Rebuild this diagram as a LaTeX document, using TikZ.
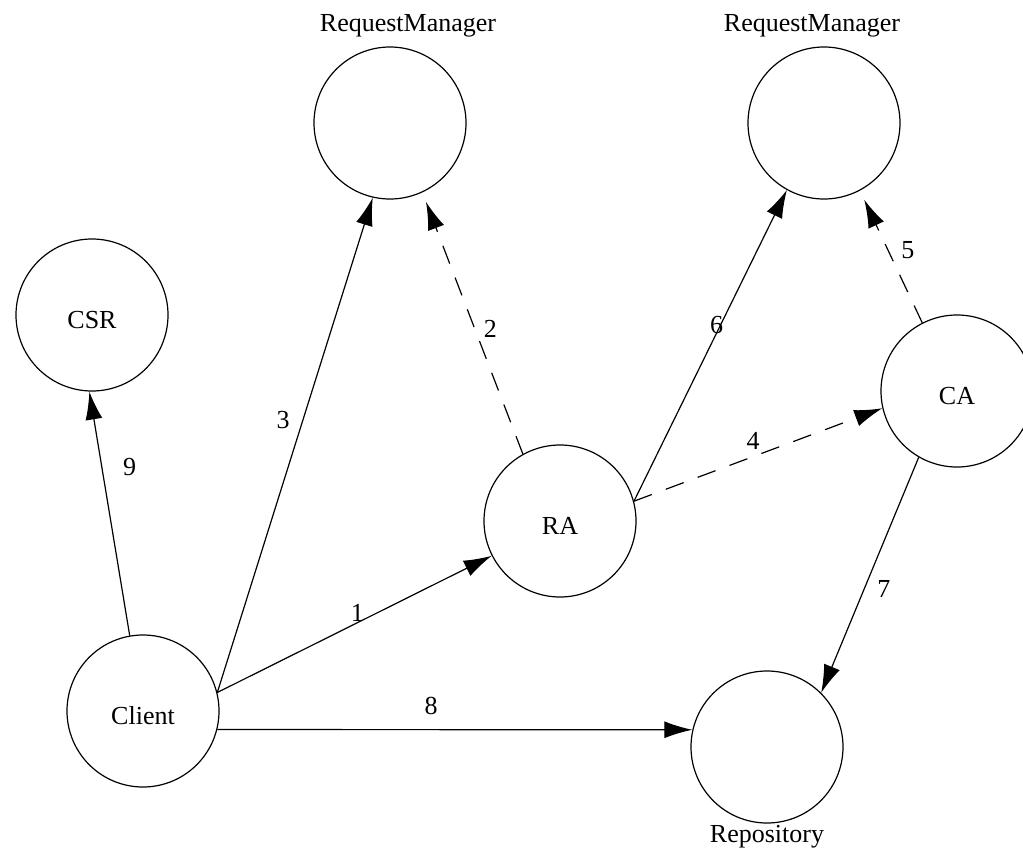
\documentclass[tikz,border=0pt]{standalone}
\usepackage{fontspec}
\setmainfont{Liberation Serif}
\usetikzlibrary{arrows.meta}
\usetikzlibrary{positioning}

\tikzset{
  party/.style={circle, draw, line width=0.6pt, minimum size=76pt, inner sep=0pt,
    text height=13.5pt, text depth=0pt},
  msg/.style={line width=0.6pt, -{Latex[length=14pt,width=8.5pt]}},
  optmsg/.style={msg, dash pattern=on 9.5pt off 7.5pt},
  every node/.style={font=\fontsize{13}{15}\selectfont}
}

\begin{document}
\begin{tikzpicture}[x=0.5pt, y=-0.5pt]
  \useasboundingbox (0,0) rectangle (1023,851);

  \node [party, label={[name=rmAlbl, label distance=1pt, xshift=9pt]above:RequestManager}] (rmA) at (390,123) {};
  \node [party, label={[name=rmBlbl, label distance=1pt, xshift=-6pt]above:RequestManager}] (rmB) at (824,123) {};
  \node [party] (csr) at (92,315) {CSR};
  \node [party] (ca) at (957,391) {CA};
  \node [party] (ra) at (560,521) {RA};
  \node [party] (client) at (143,711) {Client};
  \node [party, label={[name=repolbl, label distance=-2.5pt]below:Repository}] (repo) at (767,747) {};

  \draw [msg] (client.14) -- node [pos=0.51, above=-3pt] {1} (ra.207);
  \draw [optmsg, shorten >=5pt] (ra.119) -- node [pos=0.48, right=1pt] {2} (rmA.-65);
  \draw [msg] (client.14) -- node [pos=0.55, left=3pt] {3} (rmA.-103);
  \draw [optmsg] (ra.15) -- node [pos=0.48, above=0pt] {4} (ca.193);
  \draw [optmsg, shorten >=5pt] (ca.117) -- node [pos=0.55, right=3pt] {5} (rmB.-62);
  \draw [msg] (ra.15) -- node [pos=0.565, left=-5pt] {6} (rmB.-119);
  \draw [msg] (ca.-120) -- node [pos=0.56, right=3pt] {7} (repo.45);
  \draw [msg] (client.-14) -- node [pos=0.45, above=4pt] {8} (repo.167);
  \draw [msg] (client.100) -- node [pos=0.69, right=7pt] {9} (csr.-92);
\end{tikzpicture}
\end{document}
